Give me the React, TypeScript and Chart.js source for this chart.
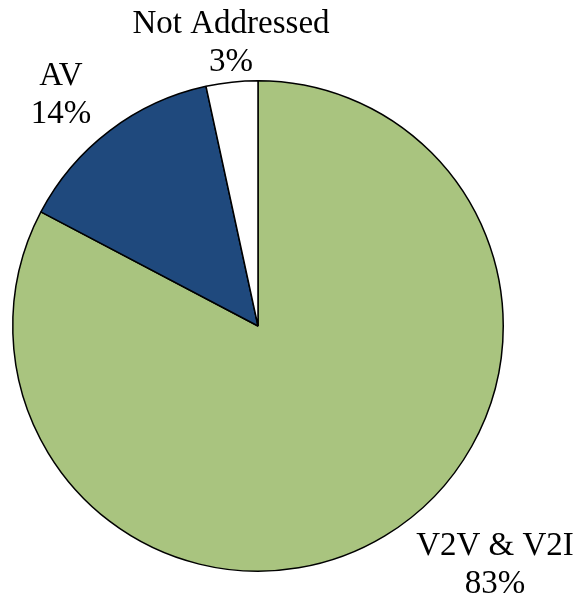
import React, { useEffect, useRef } from "react";
import { Chart, registerables } from "chart.js";

Chart.register(...registerables);

const categories = ["V2V & V2I", "AV", "Not Addressed"];
const values = [82.7, 13.9, 3.4];
const percentLabels = ["83%", "14%", "3%"];
const colors = ["#A9C47F", "#1F497D", "#FFFFFF"];

// label text centres, relative to pie centre (px) — layout only
const labelOffsets = [
  [237, 229],
  [-197, -241],
  [-27, -293],
];

const labelPlugin = {
  id: "outsideLabels",
  afterDraw(chart: any) {
    const ctx = chart.ctx;
    const meta = chart.getDatasetMeta(0);
    ctx.save();
    ctx.fillStyle = "#000";
    ctx.font = '33px "Liberation Serif", "Times New Roman", serif';
    ctx.textAlign = "center";
    ctx.textBaseline = "alphabetic";
    meta.data.forEach((arc: any, i: number) => {
      const cx = arc.x + labelOffsets[i][0];
      const cy = arc.y + labelOffsets[i][1];
      ctx.fillText(String(chart.data.labels[i]), cx, cy);
      ctx.fillText(percentLabels[i], cx, cy + 38);
    });
    ctx.restore();
  },
};

export default function App() {
  const ref = useRef<HTMLCanvasElement>(null);
  useEffect(() => {
    document.body.style.margin = "0";
    const chart = new Chart(ref.current!, {
      type: "pie",
      data: {
        labels: categories,
        datasets: [
          {
            data: values,
            backgroundColor: colors,
            borderColor: "#000000",
            borderWidth: 1.5,
          },
        ],
      },
      options: {
        responsive: false,
        animation: false,
        layout: { padding: { left: 12, right: 72, top: 80, bottom: 29 } },
        plugins: {
          legend: { display: false },
          tooltip: { enabled: false },
        },
      },
      plugins: [labelPlugin],
    });
    return () => chart.destroy();
  }, []);
  return (
    <div style={{ width: 576, height: 601, background: "#fff" }}>
      <canvas ref={ref} width={576} height={601} style={{ display: "block" }} />
    </div>
  );
}
